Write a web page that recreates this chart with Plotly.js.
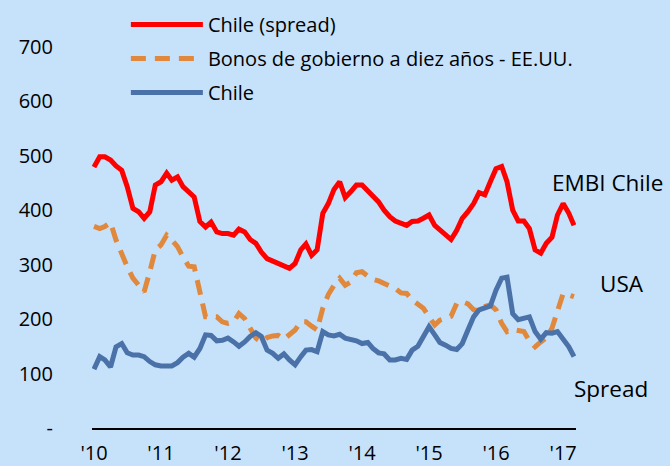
<!DOCTYPE html>
<html>
<head>
<meta charset="utf-8">
<script src="https://cdn.plot.ly/plotly-3.0.1.min.js"></script>
<style>html,body{margin:0;padding:0;background:#C6E1FA;} #chart{width:670px;height:466px;}</style>
</head>
<body>
<div id="chart"></div>
<script>
// Monthly data, Jan 2010 - Mar 2017 (basis points)
var startYear = 2010;
var embiChile = [479,498,498,492,481,473,443,403,397,385,397,446,452,468,455,461,443,434,424,379,369,378,360,357,357,354,365,360,346,339,323,311,307,302,299,293,302,327,338,317,327,394,412,438,452,423,434,446,446,435,426,415,400,388,380,376,372,379,380,385,391,372,364,357,346,363,385,397,412,432,428,452,476,480,452,400,380,380,366,327,321,339,350,391,412,394,372];
var usTreasury10y = [370,366,370,377,345,317,296,275,262,250,287,327,336,354,345,333,314,297,296,253,204,204,204,195,192,195,210,201,183,165,158,166,169,170,163,171,180,195,195,187,180,220,245,262,275,262,268,285,287,279,273,270,265,261,256,248,247,235,226,220,204,189,198,201,205,229,232,228,217,215,223,226,217,192,177,181,180,177,160,149,158,166,183,217,247,244,241];
var chileSpread = [108,131,125,112,149,155,138,134,134,131,122,116,114,114,114,120,130,137,130,146,171,170,160,161,165,158,150,158,168,175,168,143,137,128,136,125,116,131,143,144,140,177,171,169,172,165,163,160,155,157,146,138,136,125,125,128,126,143,150,168,186,171,157,152,146,144,155,180,204,217,221,224,253,275,277,210,199,201,204,177,163,175,174,177,163,149,131];
var seriesNames = ['Chile (spread)', 'Bonos de gobierno a diez años - EE.UU.', 'Chile'];
var xTickVals = ['2010-01-01','2011-01-01','2012-01-01','2013-01-01','2014-01-01','2015-01-01','2016-01-01','2017-01-01'];
var xTickText = ["'10","'11","'12","'13","'14","'15","'16","'17"];
var yTickVals = [0,100,200,300,400,500,600,700];
var yTickText = ['-','100','200','300','400','500','600','700'];
var sideLabels = ['EMBI Chile', 'USA', 'Spread'];

var months = [];
for (var i = 0; i < embiChile.length; i++) {
  var y = startYear + Math.floor(i / 12);
  var m = (i % 12) + 1;
  months.push(y + '-' + (m < 10 ? '0' + m : m) + '-01');
}

var FONT = '"Open Sans", Lato, sans-serif';
var traces = [
  {x: months, y: embiChile, name: seriesNames[0], type: 'scatter', mode: 'lines',
   line: {color: '#FF0000', width: 5}, legendgroup: 'a'},
  {x: months, y: usTreasury10y, name: seriesNames[1], type: 'scatter', mode: 'lines',
   line: {color: '#E0883C', width: 5, dash: '15px,9px'}, legendgroup: 'b'},
  {x: months, y: chileSpread, name: seriesNames[2], type: 'scatter', mode: 'lines',
   line: {color: '#4A72A8', width: 5}, legendgroup: 'c'}
];

var annFont = {family: FONT, size: 22.5, color: '#000'};
var layout = {
  width: 670, height: 466,
  paper_bgcolor: '#C6E1FA', plot_bgcolor: '#C6E1FA',
  margin: {l: 92, r: 94, t: 14, b: 38, autoexpand: false},
  font: {family: FONT, size: 20, color: '#000'},
  showlegend: true,
  legend: {x: 0.07, y: 1.022, xanchor: 'left', yanchor: 'top', bgcolor: 'rgba(0,0,0,0)',
           font: {family: FONT, size: 20, color: '#000'}, itemwidth: 72,
           traceorder: 'grouped', tracegroupgap: 5},
  xaxis: {type: 'date', range: ['2009-12-21', '2017-03-12'],
          tickmode: 'array', tickvals: xTickVals, ticktext: xTickText,
          showgrid: false, zeroline: false, showline: true, linecolor: '#000', linewidth: 1.5,
          ticks: '', ticklabelstandoff: 6, tickfont: {family: FONT, size: 20, color: '#000'}},
  yaxis: {range: [0, 760], tickmode: 'array', tickvals: yTickVals, ticktext: yTickText,
          showgrid: false, zeroline: false, showline: false, ticks: '',
          ticklabelstandoff: 38, tickfont: {family: FONT, size: 20, color: '#000'}},
  annotations: [
    {xref: 'paper', yref: 'paper', x: 0.9463, y: 0.594, xanchor: 'left', yanchor: 'middle',
     text: sideLabels[0], showarrow: false, font: annFont},
    {xref: 'paper', yref: 'paper', x: 1.0455, y: 0.350, xanchor: 'left', yanchor: 'middle',
     text: sideLabels[1], showarrow: false, font: annFont},
    {xref: 'paper', yref: 'paper', x: 0.9917, y: 0.0954, xanchor: 'left', yanchor: 'middle',
     text: sideLabels[2], showarrow: false, font: annFont}
  ]
};

Plotly.newPlot('chart', traces, layout, {displayModeBar: false, staticPlot: true});
</script>
</body>
</html>
